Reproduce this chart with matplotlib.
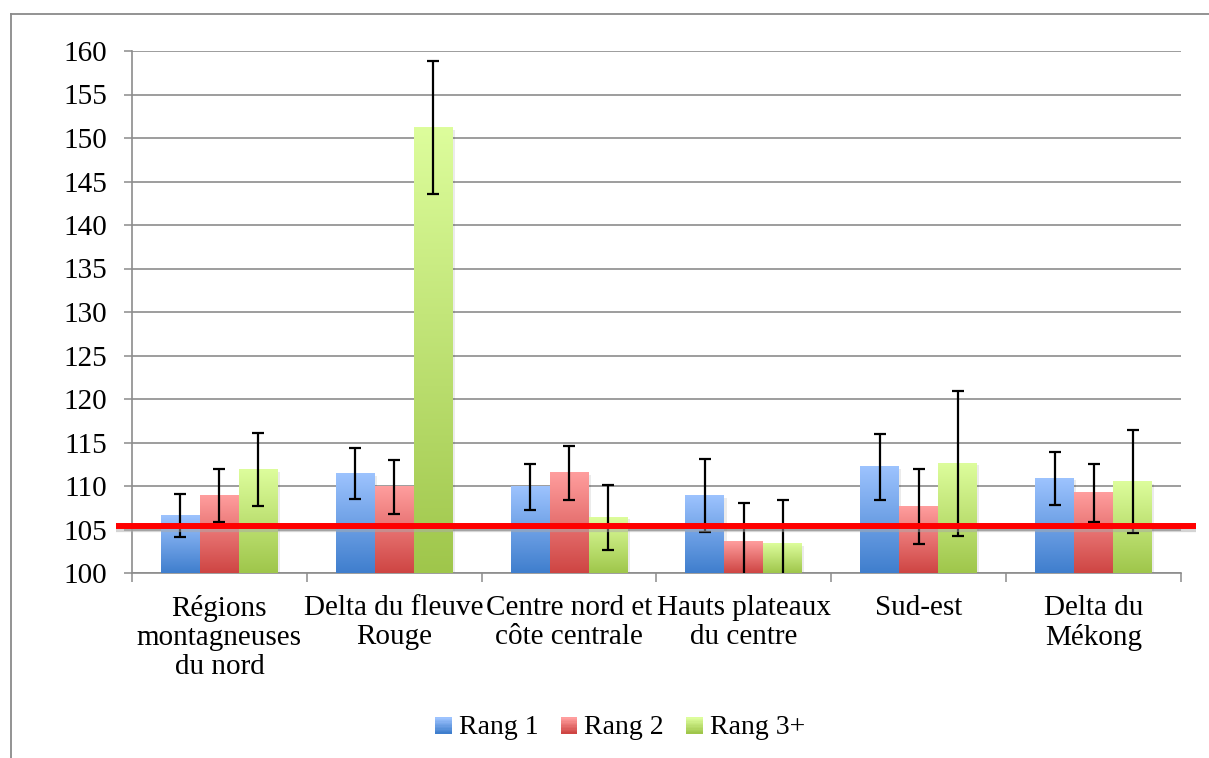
import numpy as np
import matplotlib
matplotlib.use("Agg")
import matplotlib.pyplot as plt
from matplotlib.colors import LinearSegmentedColormap
from matplotlib.patches import Rectangle
from matplotlib.lines import Line2D
from matplotlib.legend_handler import HandlerBase
import matplotlib.transforms as mtransforms

plt.rcParams['font.family'] = ['Liberation Serif', 'DejaVu Serif']

regions = ["Régions\nmontagneuses\ndu nord", "Delta du fleuve\nRouge",
           "Centre nord et\ncôte centrale", "Hauts plateaux\ndu centre",
           "Sud-est", "Delta du\nMékong"]
series = ["Rang 1", "Rang 2", "Rang 3+"]
rang1 = [106.6, 111.4, 109.9, 108.9, 112.2, 110.9]
rang2 = [108.9, 109.9, 111.5, 103.6, 107.6, 109.2]
rang3 = [111.9, 151.2, 106.4, 103.4, 112.6, 110.5]
err1 = [2.5, 2.95, 2.65, 4.2, 3.8, 3.05]
err2 = [3.0, 3.1, 3.1, 4.5, 4.3, 3.35]
err3 = [4.2, 7.6, 3.75, 5.0, 8.3, 5.9]
reference = 105.4

# dark bottom / light top for each series
grad_colors = [("#3f7ecd", "#9dc3fe"), ("#ce4543", "#ff9e9e"), ("#9fc64b", "#ddfd9c")]

fig = plt.figure(figsize=(12.09, 7.58), dpi=100)
ax = fig.add_axes([132/1209, 1-573/758, (1181-132)/1209, (573-51)/758])

ymin, ymax = 100, 160
width = 0.223
x = np.arange(len(regions))
values = [rang1, rang2, rang3]
errors = [err1, err2, err3]

for i, (vals, errs) in enumerate(zip(values, errors)):
    cmap = LinearSegmentedColormap.from_list(series[i], grad_colors[i])
    grad = np.linspace(0, 1, 256).reshape(-1, 1)
    xs = x + (i - 1) * width
    for xc, v in zip(xs, vals):
        shadow = Rectangle((xc - width/2, ymin), width, v - ymin,
                           facecolor='black', alpha=0.08, edgecolor='none',
                           transform=ax.transData + mtransforms.ScaledTranslation(1.5/72, -1.5/72, fig.dpi_scale_trans),
                           zorder=2)
        ax.add_patch(shadow)
        ax.imshow(grad, extent=[xc - width/2, xc + width/2, ymin, v], origin='lower',
                  aspect='auto', cmap=cmap, zorder=3, interpolation='bilinear')
    ax.errorbar(xs, vals, yerr=errs, fmt='none', ecolor='black', elinewidth=1.6,
                capsize=4.6, capthick=1.6, zorder=5)

ax.plot([-0.59, 5.586], [reference, reference], color='#aaaaaa', lw=4.5, alpha=0.5,
        solid_capstyle='butt', zorder=5, clip_on=False,
        transform=ax.transData + mtransforms.ScaledTranslation(0, -2/72, fig.dpi_scale_trans))
ax.plot([-0.59, 5.586], [reference, reference], color='#ff0000', lw=4.3,
        solid_capstyle='butt', zorder=6, clip_on=False)

ax.set_xlim(-0.5, 5.5)
ax.set_ylim(ymin, ymax)
ax.set_yticks(np.arange(100, 161, 5))
ax.set_xticks(x)
ax.set_xticklabels(regions, fontsize=21, linespacing=1.15)
ax.set_xticks(np.arange(-0.5, 6, 1), minor=True)
ax.tick_params(axis='x', which='major', length=0, pad=16)
ax.tick_params(axis='x', which='minor', length=6.5, width=1.1, color='#8c8c8c', direction='out')
ax.tick_params(axis='y', length=6, width=1.1, color='#8c8c8c', labelsize=21, pad=12)
ax.yaxis.grid(True, color='#8c8c8c', lw=1.2)
ax.set_axisbelow(True)
for s in ['top', 'right']:
    ax.spines[s].set_visible(False)
for s in ['left', 'bottom']:
    ax.spines[s].set_color('#8c8c8c')
    ax.spines[s].set_linewidth(1.2)


class GradientHandler(HandlerBase):
    def __init__(self, colors):
        super().__init__()
        self.colors = colors

    def create_artists(self, legend, orig_handle, xdescent, ydescent, width, height, fontsize, trans):
        cmap = LinearSegmentedColormap.from_list('h', self.colors)
        n = 12
        side = height * 0.85
        x0 = -xdescent + (width - side) / 2
        y0 = -ydescent + (height - side) / 2 - 1
        arts = []
        for k in range(n):
            r = Rectangle((x0, y0 + k * side / n), side, side / n + 0.3,
                          facecolor=cmap(k / (n - 1)), edgecolor='none', transform=trans)
            arts.append(r)
        return arts


handles = [Rectangle((0, 0), 1, 1) for _ in series]
fig.legend(handles, series, loc='center', bbox_to_anchor=(620/1209, 1-727/758),
           ncol=3, frameon=False, fontsize=20, handlelength=0.6, handletextpad=0.25,
           columnspacing=0.8,
           handler_map={h: GradientHandler(c) for h, c in zip(handles, grad_colors)})

# outer chart frame
fig.add_artist(Line2D([11/1209, 1], [1-14/758, 1-14/758], color='#8a8a8a', lw=1.3))
fig.add_artist(Line2D([11/1209, 11/1209], [0, 1-14/758], color='#8a8a8a', lw=1.3))

fig.savefig('out.png', dpi=100)
